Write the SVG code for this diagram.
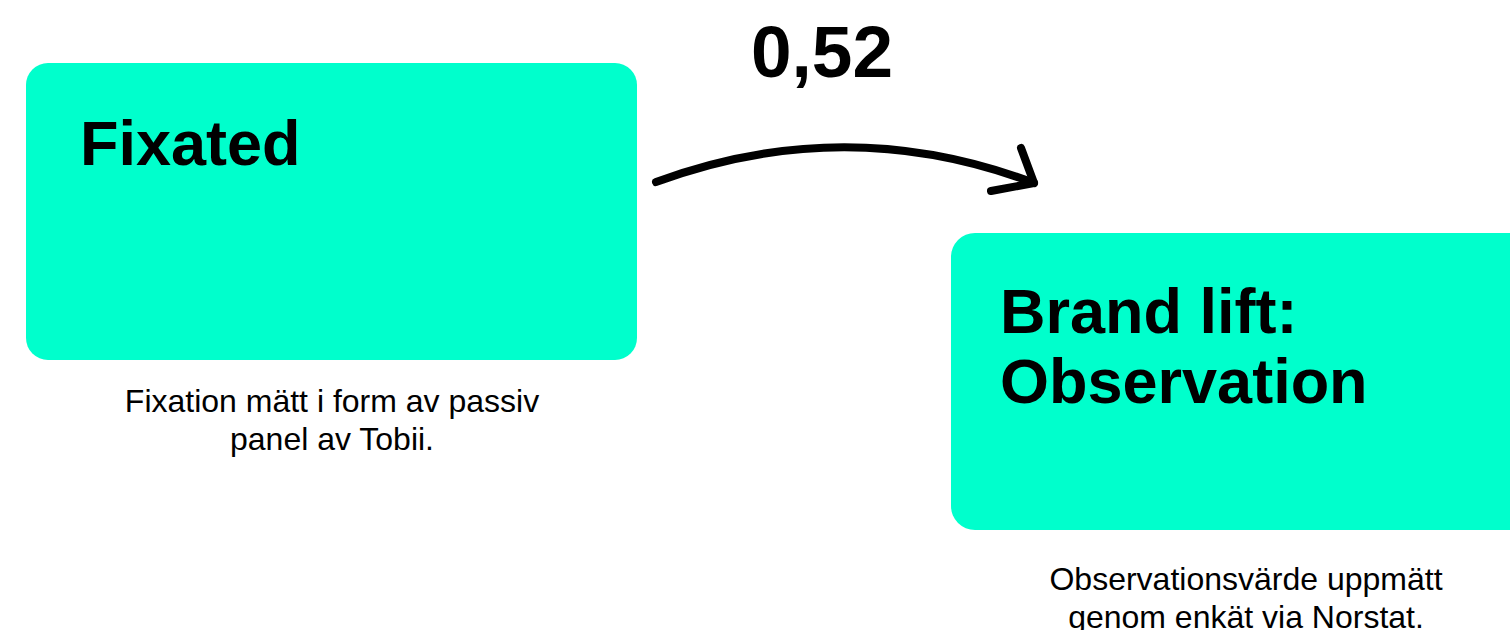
<svg xmlns="http://www.w3.org/2000/svg" width="1510" height="630" viewBox="0 0 1510 630">
  <style>
    .box { fill: #00ffcc; }
    .title { font-family: "Liberation Sans", Arial, sans-serif; font-weight: bold; font-size: 63px; fill: #000; }
    .caption { font-family: "Liberation Sans", Arial, sans-serif; font-size: 32px; fill: #000; text-anchor: middle; }
    .value { font-family: "Liberation Sans", Arial, sans-serif; font-weight: bold; font-size: 73px; fill: #000; text-anchor: middle; }
    .arrow { fill: none; stroke: #000; stroke-width: 8; stroke-linecap: round; stroke-linejoin: round; }
  </style>
  <rect width="1510" height="630" fill="#ffffff"/>

  <g id="node-fixated">
    <rect class="box" x="26" y="63" width="611" height="297" rx="22" ry="22"/>
    <text class="title" x="80" y="165">Fixated</text>
    <text class="caption" x="332" y="412">Fixation mätt i form av passiv</text>
    <text class="caption" x="332" y="450">panel av Tobii.</text>
  </g>

  <g id="node-brandlift">
    <rect class="box" x="951" y="233" width="600" height="297" rx="24" ry="24"/>
    <text class="title" x="1000" y="333">Brand lift:</text>
    <text class="title" x="1000" y="403">Observation</text>
    <text class="caption" x="1246" y="590">Observationsvärde uppmätt</text>
    <text class="caption" x="1246" y="628">genom enkät via Norstat.</text>
  </g>

  <g id="connectors">
    <path class="arrow" d="M656,182 Q846,112 1034,183"/>
    <path class="arrow" d="M1021,148 L1034,183 L991,191"/>
    <text class="value" x="822" y="77">0,52</text>
  </g>
</svg>
